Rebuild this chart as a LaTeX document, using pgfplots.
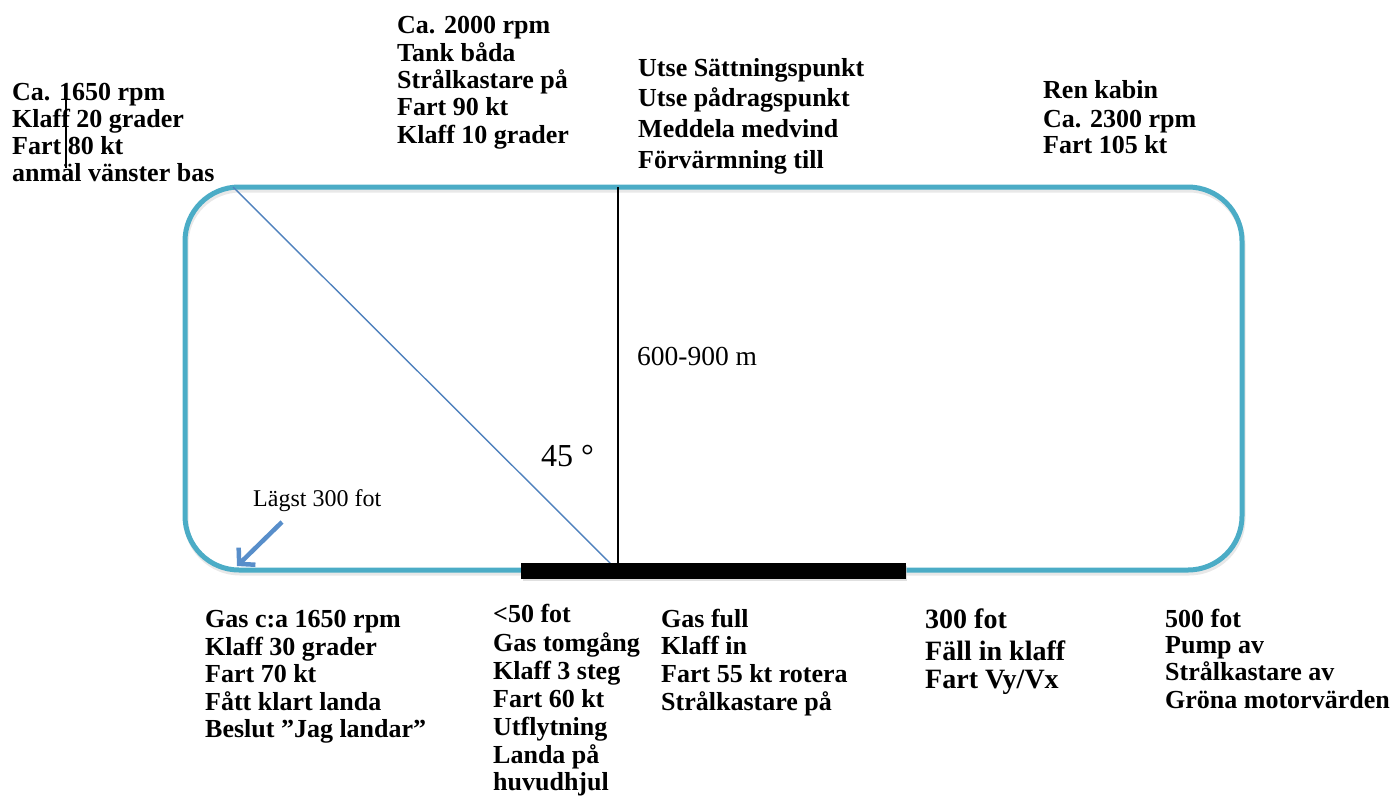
\documentclass[border=0pt]{standalone}
\usepackage{fontspec}
\setmainfont{Liberation Serif}
\usepackage{pgfplots}
\pgfplotsset{compat=1.18}
\usetikzlibrary{arrows.meta}
\definecolor{track}{HTML}{4BACC6}
\definecolor{diag}{HTML}{4F81BD}
\definecolor{arr}{RGB}{88,142,202}
\newcommand\lb[3]{\node[anchor=base west,inner sep=0pt,font=\fontsize{26}{28}\selectfont\bfseries] at (axis cs:#1,#2) {#3};}
\newcommand\lbb[3]{\node[anchor=base west,inner sep=0pt,font=\fontsize{28}{30}\selectfont\bfseries] at (axis cs:#1,#2) {#3};}
\begin{document}
\begin{tikzpicture}
\begin{axis}[name=ax, scale only axis, width=1399pt, height=795pt,
  xmin=0, xmax=1399, ymin=0, ymax=795, y dir=reverse,
  enlargelimits=false, hide axis, clip=false]
% shadow of the track
\addplot[gray!35, line width=5pt, opacity=0.5, rounded corners=54pt, xshift=1pt, yshift=-3pt]
  coordinates {(700,570)(1242,570)(1242,187)(185,187)(185,570)(700,570)};
% track
\addplot[track, line width=5pt, rounded corners=54pt]
  coordinates {(700,570)(1242,570)(1242,187)(185,187)(185,570)(700,570)};
% diagonal 45 deg line
\addplot[diag, line width=1.4pt] coordinates {(233,187)(611,564)};
% vertical 600-900 m line
\addplot[black, line width=1.8pt] coordinates {(618,187)(618,564)};
% small line in top-left text
\addplot[black, line width=1.8pt] coordinates {(66,97)(66,168)};
% runway shadow
\addplot[gray!40, draw=none, fill=gray!40, opacity=0.6] coordinates {(523,566)(907,566)(907,581)(523,581)} -- cycle;
% runway
\addplot[black, fill=black] coordinates {(521,563)(905,563)(905,578)(521,578)} -- cycle;
% arrow
\addplot[arr, line width=4.5pt, -{Straight Barb[length=11pt,width=24pt]}] coordinates {(282,522)(237,566)};
% texts
\lb{12}{100}{Ca. 1650 rpm}
\lb{12}{127}{Klaff 20 grader}
\lb{12}{154}{Fart 80 kt}
\lb{12}{181}{anmäl vänster bas}
\lb{397}{33}{Ca. 2000 rpm}
\lb{397}{61}{Tank båda}
\lb{397}{88}{Strålkastare på}
\lb{397}{115}{Fart 90 kt}
\lb{397}{143}{Klaff 10 grader}
\lb{638}{76}{Utse Sättningspunkt}
\lb{638}{106}{Utse pådragspunkt}
\lb{638}{137}{Meddela medvind}
\lb{638}{168}{Förvärmning till}
\lb{1043}{98}{Ren kabin}
\lb{1043}{127}{Ca. 2300 rpm}
\lb{1043}{153}{Fart 105 kt}
\lb{205}{627}{Gas c:a 1650 rpm}
\lb{205}{655}{Klaff 30 grader}
\lb{205}{682}{Fart 70 kt}
\lb{205}{710}{Fått klart landa}
\lb{205}{737}{Beslut ”Jag landar”}
\lb{493}{622}{<50 fot}
\lb{493}{651}{Gas tomgång}
\lb{493}{679}{Klaff 3 steg}
\lb{493}{707}{Fart 60 kt}
\lb{493}{735}{Utflytning}
\lb{493}{763}{Landa på}
\lb{493}{790}{huvudhjul}
\lb{661}{627}{Gas full}
\lb{661}{654}{Klaff in}
\lb{661}{682}{Fart 55 kt rotera}
\lb{661}{710}{Strålkastare på}
\lbb{925}{628}{300 fot}
\lbb{925}{660}{Fäll in klaff}
\lbb{925}{688}{Fart Vy/Vx}
\lb{1165}{627}{500 fot}
\lb{1165}{653}{Pump av}
\lb{1165}{680}{Strålkastare av}
\lb{1165}{708}{Gröna motorvärden}
\node[anchor=base west,inner sep=0pt,font=\fontsize{27.5}{29}\selectfont] at (axis cs:637,365) {600-900 m};
\node[anchor=base west,inner sep=0pt,font=\fontsize{32}{34}\selectfont] at (axis cs:541,466) {45 °};
\node[anchor=base west,inner sep=0pt,font=\fontsize{24}{26}\selectfont] at (axis cs:253,506) {Lägst 300 fot};
\end{axis}
\pgfresetboundingbox
\path (ax.south west) rectangle (ax.north east);
\end{tikzpicture}
\end{document}
